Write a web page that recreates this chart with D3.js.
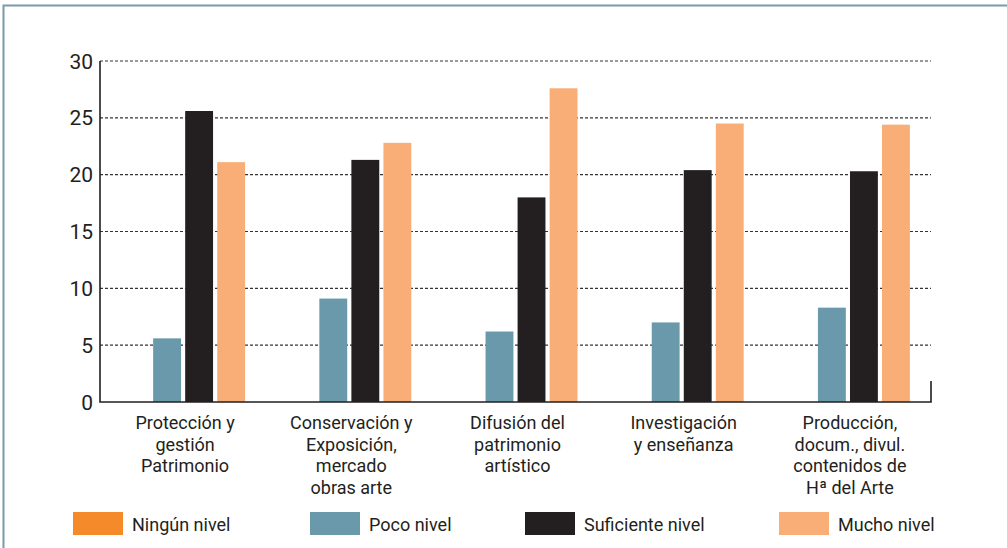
<!DOCTYPE html>
<meta charset="utf-8">
<style>

body {
  margin: 0;
  background: white;
}

.grid line {
  stroke: #333;
  stroke-width: 1.2px;
  stroke-dasharray: 3px 2px;
}

.axis text, .cats text, .legend text {
  font-family: Roboto, "Open Sans", sans-serif;
  fill: #231f20;
}

</style>
<svg></svg>
<script src="https://cdn.jsdelivr.net/npm/d3@7"></script>
<script>

var width = 1007;
var height = 548;

var categories = [
  ['Protección y', 'gestión', 'Patrimonio'],
  ['Conservación y', 'Exposición,', 'mercado', 'obras arte'],
  ['Difusión del', 'patrimonio', 'artístico'],
  ['Investigación', 'y enseñanza'],
  ['Producción,', 'docum., divul.', 'contenidos de', 'Hª del Arte']
];
var seriesNames = ['Ningún nivel', 'Poco nivel', 'Suficiente nivel', 'Mucho nivel'];
var ningun = [0, 0, 0, 0, 0];
var poco = [5.6, 9.1, 6.2, 7.0, 8.3];
var suficiente = [25.6, 21.3, 18.0, 20.4, 20.3];
var mucho = [21.1, 22.8, 27.6, 24.5, 24.4];
var yTicks = [0, 5, 10, 15, 20, 25, 30];

var colors = ['#f58a2a', '#6b99ac', '#231f20', '#f9ae77'];
var series = [ningun, poco, suficiente, mucho];
var legendX = [73, 310, 525, 779];

var plot = { left: 100, right: 931, top: 61, bottom: 402 };

var svg = d3.select('svg')
  .attr('width', width)
  .attr('height', height);

// frame
svg.append('path')
  .attr('d', 'M3.5,' + height + 'V5.5H' + width)
  .attr('fill', 'none')
  .attr('stroke', '#7b9aab')
  .attr('stroke-width', 2);

var x = d3.scaleBand()
  .domain(d3.range(categories.length))
  .range([plot.left, plot.right]);

var xInner = d3.scaleBand()
  .domain(d3.range(seriesNames.length))
  .range([x.bandwidth() / 2 - 62, x.bandwidth() / 2 + 62])
  .paddingInner(0.13);

var y = d3.scaleLinear()
  .domain([0, 30])
  .range([plot.bottom, plot.top]);

svg.append('g')
  .attr('class', 'grid')
  .selectAll('line')
  .data(yTicks.slice(1))
  .enter().append('line')
  .attr('x1', plot.left)
  .attr('x2', plot.right)
  .attr('y1', function (d) { return y(d); })
  .attr('y2', function (d) { return y(d); });

var groups = svg.append('g')
  .selectAll('g')
  .data(categories)
  .enter().append('g')
  .attr('transform', function (d, i) { return 'translate(' + x(i) + ',0)'; });

groups.selectAll('rect')
  .data(function (d, i) { return series.map(function (s, j) { return { s: j, v: s[i] }; }); })
  .enter().append('rect')
  .attr('x', function (d) { return xInner(d.s); })
  .attr('width', xInner.bandwidth())
  .attr('y', function (d) { return y(d.v); })
  .attr('height', function (d) { return y(0) - y(d.v); })
  .attr('fill', function (d) { return colors[d.s]; });

// axes lines
svg.append('path')
  .attr('d', 'M' + plot.left + ',' + y(30) + 'V' + y(0) + 'H' + plot.right + 'V' + (y(0) - 21))
  .attr('fill', 'none')
  .attr('stroke', '#231f20')
  .attr('stroke-width', 1.6);

svg.append('g')
  .attr('class', 'axis')
  .selectAll('text')
  .data(yTicks)
  .enter().append('text')
  .attr('x', plot.left - 7)
  .attr('y', function (d) { return y(d); })
  .attr('dy', '0.36em')
  .attr('text-anchor', 'end')
  .attr('font-size', 21)
  .text(function (d) { return d; });

var cats = svg.append('g')
  .attr('class', 'cats')
  .selectAll('text')
  .data(categories)
  .enter().append('text')
  .attr('x', function (d, i) { return x(i) + x.bandwidth() / 2 + 2; })
  .attr('y', 429)
  .attr('text-anchor', 'middle')
  .attr('font-size', 18);

cats.selectAll('tspan')
  .data(function (d) { return d; })
  .enter().append('tspan')
  .attr('x', function () { return d3.select(this.parentNode).attr('x'); })
  .attr('dy', function (d, i) { return i ? 21.5 : 0; })
  .text(function (d) { return d; });

var legend = svg.append('g')
  .attr('class', 'legend')
  .selectAll('g')
  .data(seriesNames)
  .enter().append('g')
  .attr('transform', function (d, i) { return 'translate(' + legendX[i] + ',512)'; });

legend.append('rect')
  .attr('width', 50)
  .attr('height', 23)
  .attr('fill', function (d, i) { return colors[i]; });

legend.append('text')
  .attr('x', 59)
  .attr('y', 19)
  .attr('font-size', 18)
  .text(function (d) { return d; });

</script>
